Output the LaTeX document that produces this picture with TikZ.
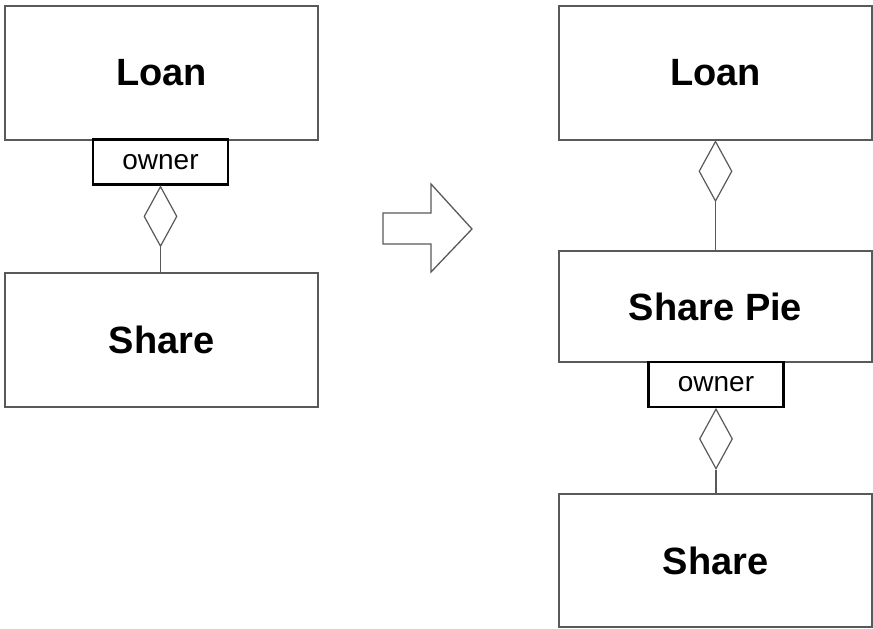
\documentclass[tikz,border=0pt]{standalone}
\usepackage{fontspec}
\setmainfont{Liberation Sans}
\usetikzlibrary{shapes.geometric}

\begin{document}
\begin{tikzpicture}[x=1pt, y=-1pt,
  cls/.style={draw=black!65, line width=1.3pt, minimum width=313pt, font=\fontsize{38}{40}\selectfont\bfseries},
  role/.style={draw=black, line width=2.6pt, fill=white, minimum width=135pt, minimum height=45pt, inner sep=0pt, font=\fontsize{28}{30}\selectfont},
  agg/.style={diamond, draw=black!65, line width=1.2pt, fill=white, minimum width=33pt, minimum height=60pt, inner sep=0pt},
  link/.style={draw=black!65, line width=1.2pt}]
	\useasboundingbox (0,0) rectangle (873,629);
	% before
	\node[cls, minimum height=134pt] (loanA) at (161.5,73) {Loan};
	\node[cls, minimum height=134pt] (shareA) at (161.5,340) {Share};
	\node[role] (ownerA) at (160.5,162) {owner};
	\node[agg, anchor=north] (dA) at (ownerA.south) {};
	% transformation arrow
	\draw[black!65, line width=1.3pt, line join=miter] (383,213) -- (431,213) -- (431,184) -- (472,229) -- (431,272) -- (431,244) -- (383,244) -- cycle;
	% after
	\node[cls, minimum height=134pt] (loanB) at (715.5,73) {Loan};
	\node[cls, minimum height=111pt] (pie) at (715.5,306.5) {Share Pie};
	\node[cls, minimum height=133pt] (shareB) at (715.5,560.5) {Share};
	\node[agg, anchor=north] (dB) at (loanB.south) {};
	\node[role] (ownerB) at (716,384.5) {owner};
	\node[agg, anchor=north] (dC) at (ownerB.south) {};
	\foreach \a/\b in {dA/shareA, dB/pie, dC/shareB} {\draw[link] (\a.south) -- (\a.south |- \b.north);}
\end{tikzpicture}
\end{document}
